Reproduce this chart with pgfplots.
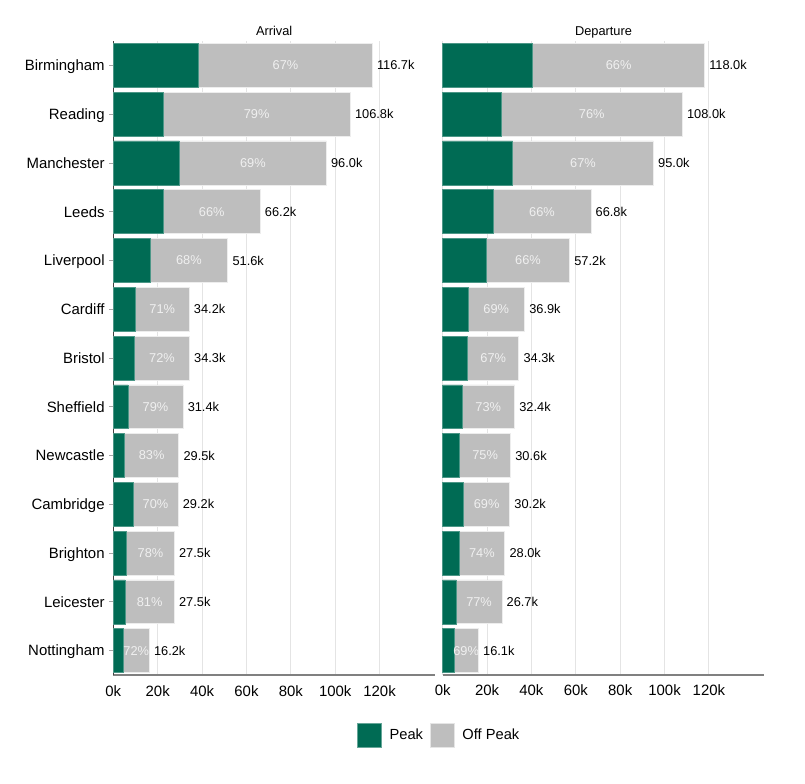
\documentclass[border=0pt]{standalone}
\usepackage{pgfplots}
\pgfplotsset{compat=1.18}
\usepackage{pgfplotstable}
\usepackage{fontspec}
\setmainfont{Liberation Sans}
\definecolor{peak}{HTML}{006B54}
\definecolor{offpeak}{HTML}{BEBEBE}
\definecolor{gridc}{HTML}{E4E4E4}

\pgfplotstableread{
idx peak total pct
0 38.5 116.7 67
1 22.4 106.8 79
2 29.8 96.0 69
3 22.5 66.2 66
4 16.5 51.6 68
5 9.9 34.2 71
6 9.6 34.3 72
7 6.6 31.4 79
8 5.0 29.5 83
9 8.8 29.2 70
10 6.0 27.5 78
11 5.2 27.5 81
12 4.5 16.2 72
}\arrival

\pgfplotstableread{
idx peak total pct
0 40.6 118.0 66
1 26.4 108.0 76
2 31.5 95.0 67
3 22.7 66.8 66
4 19.7 57.2 66
5 11.4 36.9 69
6 11.3 34.3 67
7 8.7 32.4 73
8 7.7 30.6 75
9 9.4 30.2 69
10 7.3 28.0 74
11 6.1 26.7 77
12 5.0 16.1 69
}\departure

\pgfplotsset{
  panel/.style={
    scale only axis,
    width=241.3pt, height=475.5pt,
    xmin=0, xmax=145, ymin=-0.5, ymax=12.5,
    enlargelimits=false,
    clip=false,
    axis x line=bottom,
    x axis line style={-, draw=black!50, line width=1.1pt},
    xtick={0,20,...,120},
    xticklabel={\pgfmathprintnumber{\tick}k},
    xtick style={draw=none},
    xticklabel style={yshift=-1.3pt},
    xmajorgrids,
    major grid style={draw=gridc, line width=0.75pt},
    /pgf/number format/assume math mode=true,
    tick label style={font=\fontsize{11.2}{13}\selectfont},
    title style={font=\fontsize{9.6}{11}\selectfont, anchor=base, at={(0.5,1)}, yshift=-1.8pt},
  },
  offbar/.style={xbar, bar width=0.9, bar shift=0pt, fill=offpeak, draw=black!7, line width=0.5pt, forget plot,
    point meta=x,
    nodes near coords={\pgfmathprintnumber[fixed,fixed zerofill,precision=1]{\pgfplotspointmeta}k},
    every node near coord/.append style={font=\fontsize{9.6}{11}\selectfont, text=black}},
  peakbar/.style={xbar, bar width=0.9, bar shift=0pt, fill=peak, draw=peak!70!white, line width=0.4pt, forget plot},
  pctlab/.style={only marks, mark=*, mark size=0pt, mark options={draw=none, fill=none}, forget plot,
    point meta=\thisrow{pct},
    nodes near coords={\pgfmathprintnumber{\pgfplotspointmeta}\%},
    every node near coord/.style={anchor=center, text=white!94!black, font=\fontsize{9.6}{11}\selectfont}},
}

\begin{document}
\begin{tikzpicture}
\path (0,0) rectangle (603.75pt,-587.25pt);
\begin{axis}[panel,
  at={(84.98pt,-506.25pt)}, anchor=south west,
  title=Arrival,
  axis y line=left,
  y axis line style={-, draw=black!75, line width=0.6pt},
  ytick={0,...,12},
  yticklabels={Nottingham,Leicester,Brighton,Cambridge,Newcastle,Sheffield,Bristol,Cardiff,Liverpool,Leeds,Manchester,Reading,Birmingham},
  yticklabel style={anchor=base east, yshift=-4pt},
  tick align=outside,
  ytick style={draw=black!35, line width=0.6pt},
  major tick length=3pt,
  legend columns=2,
  legend style={at={(1.014,-0.0946)}, anchor=center, draw=none, fill=none,
    font=\fontsize{11}{13}\selectfont,
    /tikz/every odd column/.append style={column sep=3.8pt},
    /tikz/every even column/.append style={column sep=3.3pt}},
  legend image code/.code={\draw[#1] (0pt,-9pt) rectangle (18pt,9pt);},
]
\addplot[offbar] table[x=total, y expr=12-\thisrow{idx}] {\arrival};
\addplot[peakbar] table[x=peak, y expr=12-\thisrow{idx}] {\arrival};
\addplot[pctlab] table[x expr=(\thisrow{peak}+\thisrow{total})/2, y expr=12-\thisrow{idx}] {\arrival};
\addlegendimage{fill=peak, draw=peak!60!white, line width=0.5pt}
\addlegendentry{Peak}
\addlegendimage{fill=offpeak, draw=black!10, line width=0.5pt}
\addlegendentry{Off Peak}
\end{axis}
\begin{axis}[panel,
  at={(332.0pt,-506.25pt)}, anchor=south west,
  title=Departure,
  axis y line=none,
  ytick=\empty,
]
\addplot[offbar] table[x=total, y expr=12-\thisrow{idx}] {\departure};
\addplot[peakbar] table[x=peak, y expr=12-\thisrow{idx}] {\departure};
\addplot[pctlab] table[x expr=(\thisrow{peak}+\thisrow{total})/2, y expr=12-\thisrow{idx}] {\departure};
\end{axis}
\end{tikzpicture}
\end{document}
